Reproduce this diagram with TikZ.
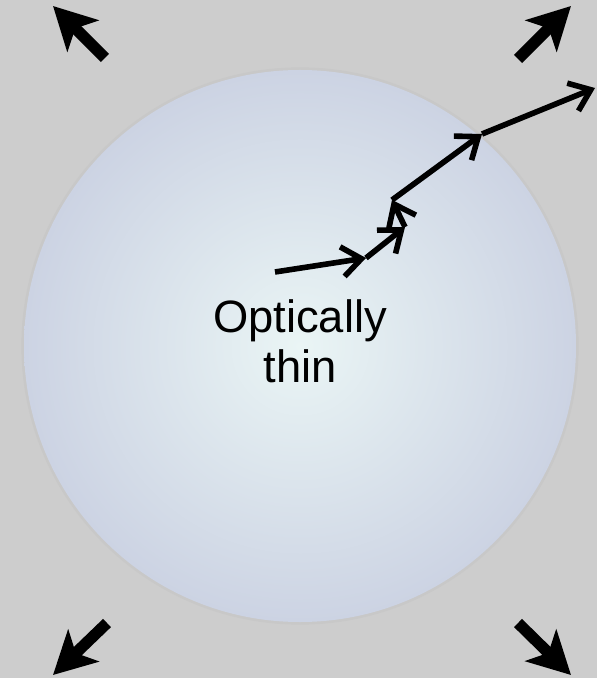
\documentclass[tikz,border=0pt]{standalone}
\usepackage{fontspec}
\setmainfont{Liberation Sans}
\usetikzlibrary{arrows.meta}

\definecolor{bggrey}{RGB}{205,205,205}
\definecolor{cloudin}{RGB}{234,245,245}
\definecolor{cloudout}{RGB}{204,211,227}

\tikzset{
  escape/.style={line width=6.5pt,-{Stealth[length=24pt,width=25pt,inset=6pt]}},
  hop/.style={line width=3.2pt,-{Straight Barb[length=11pt,width=17pt]}}
}

\begin{document}
\begin{tikzpicture}[x=0.02cm,y=-0.02cm]
  \useasboundingbox (0,0) rectangle (597,678);
  \fill[bggrey] (0,0) rectangle (597,678);
  \coordinate (C) at (300,346);
  % the cloud
  \draw[black!25,line width=3pt,opacity=.35] (C) circle (276);
  \shade[inner color=cloudin,outer color=cloudout] (C) circle (276);
  \node[align=center,font=\fontsize{25.8}{28.3}\selectfont] (lbl) at (300,341) {Optically\\thin};
  % random walk of the photon
  \coordinate (p0) at (275,272);
  \coordinate (p1) at (366,258);
  \coordinate (p2) at (405,227);
  \coordinate (p3) at (392,200);
  \coordinate (p4) at (482,134);
  \coordinate (p5) at (595,88);
  \draw[hop] (p0)--(p1);
  \draw[hop] (p1)--(p2);
  \draw[hop] (p2)--(p3);
  \draw[hop] (p3)--(p4);
  \draw[hop] (p4)--(p5);
  % outflow in the corners
  \coordinate (tlA) at (105,58);  \coordinate (tlB) at (53,6);
  \coordinate (trA) at (518,59);  \coordinate (trB) at (571,6);
  \coordinate (blA) at (107,623); \coordinate (blB) at (53,675);
  \coordinate (brA) at (518,623); \coordinate (brB) at (571,675);
  \draw[escape] (tlA)--(tlB);
  \draw[escape] (trA)--(trB);
  \draw[escape] (blA)--(blB);
  \draw[escape] (brA)--(brB);
\end{tikzpicture}
\end{document}
